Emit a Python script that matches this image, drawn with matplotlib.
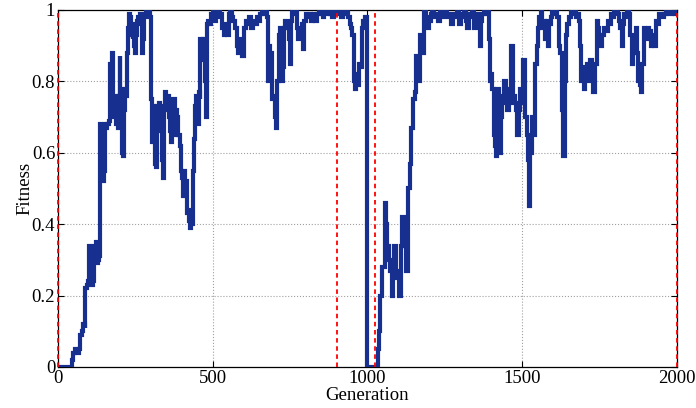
import matplotlib
matplotlib.use("Agg")
import matplotlib.pyplot as plt

# fitness of the best individual, sampled at the generations where it changes
generation = [
    0, 40, 45, 50, 55, 62, 68, 72, 78, 82, 86, 88, 93, 97, 99, 102, 105, 108, 110, 113,
    116, 119, 122, 125, 128, 132, 135, 137, 140, 143, 146, 149, 151, 155, 160, 165, 167, 170, 173, 175,
    178, 181, 184, 187, 190, 193, 196, 199, 202, 205, 208, 211, 214, 217, 220, 223, 226, 229, 232, 235,
    238, 241, 244, 247, 250, 253, 256, 259, 262, 265, 268, 271, 274, 277, 280, 284, 288, 292, 296, 299,
    302, 305, 308, 311, 314, 317, 320, 323, 326, 329, 332, 336, 339, 342, 346, 350, 354, 358, 362, 366,
    370, 373, 377, 381, 385, 389, 393, 397, 400, 404, 408, 412, 416, 420, 424, 427, 430, 432, 436, 440,
    443, 447, 451, 455, 458, 460, 464, 468, 472, 476, 479, 482, 486, 490, 494, 498, 502, 507, 512, 517,
    522, 527, 530, 535, 540, 546, 551, 556, 562, 567, 572, 578, 583, 588, 594, 600, 606, 612, 618, 624,
    630, 636, 642, 648, 654, 660, 665, 670, 675, 677, 681, 686, 691, 697, 701, 705, 709, 713, 718, 722,
    726, 729, 734, 740, 745, 749, 753, 756, 761, 767, 772, 777, 783, 788, 791, 794, 800, 806, 812, 818,
    824, 829, 832, 837, 843, 849, 855, 861, 867, 873, 879, 885, 891, 897, 903, 909, 915, 921, 927, 933,
    938, 942, 946, 950, 955, 958, 961, 964, 968, 972, 977, 982, 987, 993, 997, 999, 1000, 1029, 1033, 1037,
    1042, 1048, 1055, 1060, 1064, 1069, 1074, 1078, 1082, 1085, 1091, 1096, 1101, 1107, 1112, 1117, 1122, 1126, 1130, 1136,
    1141, 1147, 1152, 1158, 1163, 1169, 1173, 1177, 1182, 1188, 1193, 1198, 1204, 1210, 1216, 1222, 1228, 1234, 1240, 1246,
    1252, 1258, 1264, 1270, 1276, 1282, 1288, 1295, 1301, 1307, 1313, 1318, 1322, 1327, 1333, 1339, 1344, 1350, 1356, 1363,
    1367, 1371, 1377, 1382, 1387, 1392, 1396, 1400, 1403, 1408, 1412, 1416, 1420, 1425, 1430, 1436, 1441, 1446, 1452, 1457,
    1461, 1465, 1471, 1475, 1479, 1484, 1488, 1493, 1498, 1503, 1509, 1515, 1518, 1521, 1525, 1530, 1536, 1541, 1547, 1551,
    1555, 1560, 1565, 1569, 1573, 1579, 1584, 1588, 1592, 1597, 1602, 1607, 1612, 1619, 1623, 1627, 1630, 1633, 1637, 1641,
    1646, 1652, 1657, 1662, 1668, 1673, 1679, 1684, 1688, 1691, 1695, 1700, 1704, 1708, 1712, 1716, 1720, 1724, 1727, 1730,
    1735, 1741, 1745, 1749, 1754, 1759, 1765, 1770, 1776, 1781, 1786, 1791, 1797, 1803, 1808, 1813, 1817, 1821, 1825, 1830,
    1835, 1840, 1845, 1849, 1854, 1857, 1860, 1864, 1867, 1871, 1875, 1880, 1884, 1888, 1892, 1896, 1900, 1905, 1910, 1916,
    1920, 1925, 1932, 1937, 1943, 1950, 1957, 1964, 1971, 1978, 1985, 1992, 2000,
]
fitness = [
    0.00, 0.00, 0.02, 0.04, 0.05, 0.04, 0.05, 0.09, 0.10, 0.12, 0.11, 0.22, 0.23, 0.24, 0.34, 0.30, 0.24, 0.28, 0.23, 0.24,
    0.34, 0.30, 0.35, 0.29, 0.30, 0.31, 0.45, 0.68, 0.60, 0.67, 0.52, 0.55, 0.68, 0.67, 0.68, 0.69, 0.85, 0.75, 0.80, 0.88,
    0.75, 0.70, 0.76, 0.68, 0.74, 0.67, 0.76, 0.87, 0.70, 0.78, 0.60, 0.59, 0.72, 0.78, 0.76, 0.88, 0.95, 0.99, 0.98, 0.93,
    0.96, 0.92, 0.95, 0.90, 0.88, 0.93, 0.97, 0.98, 0.96, 0.99, 0.97, 0.88, 0.92, 0.99, 0.98, 1.00, 0.99, 1.00, 0.98, 0.85,
    0.75, 0.63, 0.73, 0.72, 0.57, 0.56, 0.73, 0.72, 0.74, 0.66, 0.72, 0.58, 0.53, 0.73, 0.77, 0.72, 0.76, 0.70, 0.66, 0.63,
    0.68, 0.75, 0.65, 0.72, 0.70, 0.65, 0.62, 0.55, 0.53, 0.48, 0.55, 0.52, 0.43, 0.44, 0.41, 0.39, 0.42, 0.40, 0.55, 0.64,
    0.73, 0.76, 0.68, 0.77, 0.75, 0.92, 0.90, 0.92, 0.86, 0.80, 0.70, 0.96, 0.97, 0.96, 0.99, 0.98, 1.00, 0.97, 0.99, 1.00,
    0.98, 0.99, 0.95, 0.93, 0.96, 0.93, 0.99, 1.00, 0.98, 0.97, 0.95, 0.90, 0.88, 0.92, 0.87, 0.95, 0.97, 0.96, 0.98, 0.95,
    0.97, 0.96, 0.98, 0.97, 0.99, 1.00, 0.99, 1.00, 0.98, 0.80, 0.90, 0.88, 0.75, 0.76, 0.70, 0.67, 0.80, 0.93, 0.95, 0.80,
    0.84, 0.95, 0.97, 0.95, 0.92, 0.85, 0.97, 1.00, 0.99, 1.00, 0.95, 0.92, 0.94, 0.96, 0.89, 0.97, 0.99, 0.98, 0.99, 0.97,
    0.99, 0.98, 0.97, 0.99, 1.00, 0.99, 0.98, 1.00, 0.99, 1.00, 0.99, 0.98, 1.00, 1.00, 0.99, 1.00, 0.98, 1.00, 0.99, 1.00,
    0.98, 0.96, 0.95, 0.93, 0.85, 0.80, 0.78, 0.82, 0.79, 0.85, 0.84, 0.95, 0.97, 0.98, 0.97, 0.96, 0.00, 0.00, 0.05, 0.10,
    0.20, 0.28, 0.46, 0.40, 0.34, 0.30, 0.27, 0.20, 0.29, 0.34, 0.27, 0.25, 0.20, 0.34, 0.42, 0.38, 0.34, 0.27, 0.50, 0.57,
    0.67, 0.75, 0.77, 0.87, 0.80, 0.93, 0.90, 0.88, 1.00, 0.98, 0.95, 0.97, 0.99, 1.00, 0.98, 0.99, 0.97, 1.00, 0.99, 0.98,
    1.00, 0.99, 0.98, 0.96, 0.99, 0.98, 1.00, 0.96, 0.99, 0.98, 1.00, 0.97, 0.95, 0.99, 0.98, 1.00, 0.95, 0.99, 0.97, 0.90,
    0.97, 0.99, 1.00, 0.99, 1.00, 0.92, 0.80, 0.82, 0.78, 0.65, 0.62, 0.59, 0.78, 0.60, 0.70, 0.76, 0.80, 0.74, 0.72, 0.78,
    0.74, 0.90, 0.76, 0.74, 0.72, 0.65, 0.72, 0.78, 0.74, 0.86, 0.70, 0.65, 0.58, 0.45, 0.60, 0.70, 0.65, 0.85, 0.90, 0.95,
    0.98, 1.00, 0.95, 0.97, 0.92, 0.97, 0.90, 0.96, 0.98, 1.00, 0.99, 1.00, 0.98, 0.90, 0.88, 0.85, 0.72, 0.59, 0.80, 0.93,
    0.96, 0.98, 1.00, 0.99, 1.00, 0.98, 0.99, 0.97, 0.90, 0.80, 0.84, 0.78, 0.82, 0.85, 0.80, 0.82, 0.86, 0.83, 0.78, 0.77,
    0.85, 0.97, 0.95, 0.93, 0.90, 0.93, 0.95, 0.94, 0.97, 0.96, 0.99, 0.98, 1.00, 1.00, 0.99, 0.97, 0.95, 0.90, 0.96, 0.99,
    0.98, 1.00, 0.99, 0.93, 0.85, 0.88, 0.92, 0.90, 0.95, 0.88, 0.80, 0.79, 0.77, 0.85, 0.95, 0.93, 0.92, 0.95, 0.94, 0.90,
    0.93, 0.90, 0.97, 0.96, 0.99, 0.98, 0.99, 1.00, 0.99, 0.99, 1.00, 0.99, 1.00,
]

# generations at which the environment was switched
changes = [0, 900, 1025, 2000]

plt.rcParams["font.family"] = ["Liberation Serif", "DejaVu Serif"]
plt.rcParams["font.size"] = 13.5

fig = plt.figure(figsize=(6.96, 4.08), dpi=100)
ax = fig.add_axes([0.0833, 0.1005, 0.8894, 0.875])

ax.plot(generation, fitness, color="#17308f", linewidth=3.0, drawstyle="steps-post",
        solid_joinstyle="miter", zorder=3)
for g in changes:
    ax.axvline(g, color="red", linestyle=(0, (2.5, 2.0)), linewidth=1.3, zorder=6, clip_on=False)

ax.set_xlim(0, 2000)
ax.set_ylim(0, 1)
ax.set_xticks([0, 500, 1000, 1500, 2000])
ax.set_yticks([0, 0.2, 0.4, 0.6, 0.8, 1])
ax.set_yticklabels(["0", "0.2", "0.4", "0.6", "0.8", "1"])
ax.grid(True, linestyle=":", color="#a0a0a0", linewidth=0.8)
ax.tick_params(direction="in", top=True, right=True, length=4, width=0.8, pad=2)
for s in ax.spines.values():
    s.set_linewidth(0.9)

ax.set_xlabel("Generation", labelpad=0)
ax.set_ylabel("Fitness", labelpad=-1)

fig.savefig("out.png", dpi=100)
